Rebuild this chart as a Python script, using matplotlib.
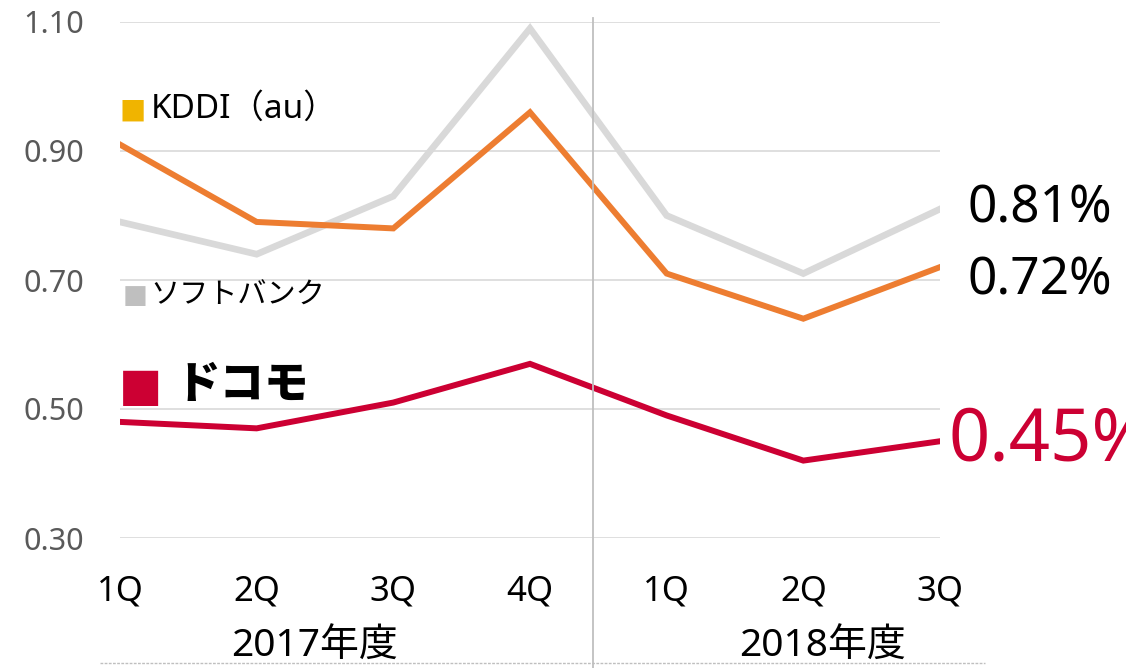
import matplotlib
matplotlib.use("Agg")
import matplotlib.pyplot as plt
from matplotlib.lines import Line2D

plt.rcParams['font.family'] = ['Noto Sans', 'Noto Sans CJK JP', 'DejaVu Sans']

quarters = ["1Q", "2Q", "3Q", "4Q", "1Q", "2Q", "3Q"]
years = ["2017年度", "2018年度"]
kddi = [0.91, 0.79, 0.78, 0.96, 0.71, 0.64, 0.72]
softbank = [0.79, 0.74, 0.83, 1.09, 0.80, 0.71, 0.81]
docomo = [0.48, 0.47, 0.51, 0.57, 0.49, 0.42, 0.45]
yticks = [0.30, 0.50, 0.70, 0.90, 1.10]

c_kddi = "#ED7D31"
c_sb = "#D9D9D9"
c_doc = "#CC0033"

fig = plt.figure(figsize=(11.26, 6.68), dpi=100)
ax = fig.add_axes([120 / 1126, 1 - 538 / 668, 820 / 1126, 516 / 668])

x = list(range(len(quarters)))
ax.plot(x, softbank, color=c_sb, lw=4.8, solid_joinstyle='miter')
ax.plot(x, kddi, color=c_kddi, lw=4.3, solid_joinstyle='miter')
ax.plot(x, docomo, color=c_doc, lw=4.3, solid_joinstyle='miter')

ax.set_xlim(0, 6)
ax.set_ylim(0.30, 1.10)
ax.set_yticks(yticks)
ax.set_yticklabels([f"{v:.2f}" for v in yticks], fontsize=22, color="#595959")
ax.set_xticks(x)
ax.set_xticklabels(quarters, fontsize=25)
ax.tick_params(length=0)
ax.tick_params(axis='y', pad=26)
ax.tick_params(axis='x', pad=26)
ax.grid(axis='y', color="#D9D9D9", lw=1.2)
ax.set_axisbelow(True)
for s in ax.spines.values():
    s.set_visible(False)

# fiscal year divider
ax.axvline(3.46, ymin=-0.252, ymax=1.008, color="#BFBFBF", lw=1.3, clip_on=False)

# year labels
for xp, lab in zip([1.42, 5.14], years):
    ax.text(xp, -0.21, lab, transform=ax.get_xaxis_transform(), ha='center', va='center',
            fontsize=28)

# dashed bottom line
fig.add_artist(Line2D([100 / 1126, 985 / 1126], [1 - 663 / 668, 1 - 663 / 668],
                      color="#BFBFBF", lw=1, ls=(0, (2, 1))))

# series labels
ax.annotate("■", xy=(0, 0.965), xytext=(0, 0), textcoords='offset points',
            color="#F0B400", fontsize=20, va='center', ha='left', family='DejaVu Sans')
ax.annotate("KDDI（au）", xy=(0, 0.965), xytext=(22, 0), textcoords='offset points',
            fontsize=24, va='center', ha='left')
ax.annotate("■", xy=(0, 0.675), xytext=(2, 0), textcoords='offset points',
            color="#BFBFBF", fontsize=19, va='center', ha='left', family='DejaVu Sans')
ax.annotate("ソフトバンク", xy=(0, 0.675), xytext=(22, 0), textcoords='offset points',
            fontsize=21, va='center', ha='left')
ax.annotate("■", xy=(0, 0.534), xytext=(-1, 0), textcoords='offset points',
            color=c_doc, fontsize=33, va='center', ha='left', family='DejaVu Sans')
ax.annotate("ドコモ", xy=(0, 0.534), xytext=(40, 0), textcoords='offset points',
            fontsize=32, fontweight='heavy', va='center', ha='left')

# end-value labels
ax.annotate("0.81%", xy=(6, softbank[-1]), xytext=(20, 0), textcoords='offset points',
            fontsize=37, va='center', ha='left', annotation_clip=False)
ax.annotate("0.72%", xy=(6, kddi[-1]), xytext=(20, -10), textcoords='offset points',
            fontsize=37, va='center', ha='left', annotation_clip=False)
ax.annotate("0.45%", xy=(6, docomo[-1]), xytext=(6, 0), textcoords='offset points',
            fontsize=52, va='center', ha='left', color=c_doc, annotation_clip=False)

fig.savefig("out.png", dpi=100)
